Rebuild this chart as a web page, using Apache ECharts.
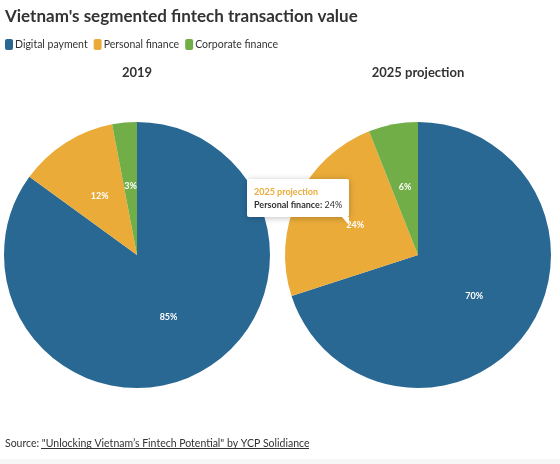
<!DOCTYPE html>
<html>
<head>
<meta charset="utf-8">
<script src="https://cdn.jsdelivr.net/npm/echarts@6/dist/echarts.min.js"></script>
<style>
	html, body { margin: 0; padding: 0; background: #fff; }
	#chart { width: 560px; height: 464px; }
</style>
</head>
<body>
<div id="chart"></div>
<script type="text/javascript">
	// data
	var categories = ['Digital payment', 'Personal finance', 'Corporate finance'];
	var years = ['2019', '2025 projection'];
	var values2019 = [85, 12, 3];
	var values2025 = [70, 24, 6];
	var colors = ['#2a6894', '#eaab39', '#71ae48'];

	var fontName = 'Lato';

	function makeData(vals) {
		var arr = [];
		for (var i = 0; i < categories.length; i++) {
			arr.push({ name: categories[i], value: vals[i] });
		}
		return arr;
	}

	var chart = echarts.init(document.getElementById('chart'));

	var pieBase = {
		type: 'pie',
		radius: ['0%', 133],
		startAngle: 90,
		clockwise: true,
		avoidLabelOverlap: false,
		label: {
			show: true,
			position: 'inside',
			formatter: '{c}%',
			color: '#fff',
			fontWeight: 'bold',
			fontSize: 9,
			fontFamily: fontName
		},
		labelLine: { show: false },
		emphasis: { scale: false, focus: 'none' },
		itemStyle: { borderWidth: 0 }
	};

	chart.setOption({
		animation: false,
		color: colors,
		textStyle: { fontFamily: fontName },
		title: [{
			text: "Vietnam's segmented fintech transaction value",
			left: 5,
			top: 8,
			padding: 0,
			textStyle: { fontSize: 17, fontWeight: 'bold', color: '#333', fontFamily: fontName }
		}, {
			text: years[0],
			left: 137,
			top: 66,
			padding: 0,
			textAlign: 'center',
			textStyle: { fontSize: 13, fontWeight: 'bold', color: '#333' }
		}, {
			text: years[1],
			left: 418,
			top: 66,
			padding: 0,
			textAlign: 'center',
			textStyle: { fontSize: 13, fontWeight: 'bold', color: '#333' }
		}, {
			text: 'Source: {a|"Unlocking Vietnam\u2019s Fintech Potential" by YCP Solidiance}',
			left: 5,
			top: 438,
			padding: 0,
			textStyle: {
				fontSize: 10.5,
				fontWeight: 'normal',
				color: '#333',
				rich: { a: { fontSize: 10.5, color: '#333' } }
			}
		}],
		legend: {
			data: categories,
			left: 0,
			top: 34,
			itemWidth: 8,
			itemHeight: 11,
			itemGap: 6,
			icon: 'roundRect',
			textStyle: { fontSize: 10.5, color: '#333', padding: [0, 0, 0, -3] },
			selectedMode: false
		},
		tooltip: {
			trigger: 'item',
			alwaysShowContent: true,
			triggerOn: 'none',
			backgroundColor: '#fff',
			borderWidth: 0,
			padding: [6, 7],
			extraCssText: 'box-shadow:0 1px 6px rgba(0,0,0,0.25);border-radius:2px;',
			position: function () { return [247, 179]; },
			formatter: function (p) {
				return '<div style="position:relative;font-family:Lato;font-size:9px;line-height:13px;color:#333;">' +
					'<div style="color:' + colors[1] + ';font-weight:bold;">' + p.seriesName + '</div>' +
					'<b>' + p.name + ':</b> ' + p.value + '%' +
					'<div style="position:absolute;right:-7px;bottom:-14px;width:0;height:0;border-left:7px solid transparent;border-top:8px solid #fff;"></div>' +
					'</div>';
			}
		},
		graphic: [{
			type: 'rect',
			left: 41,
			top: 448,
			shape: { width: 268, height: 1 },
			style: { fill: '#333' }
		}, {
			type: 'rect',
			left: 0,
			top: 459,
			shape: { width: 560, height: 5 },
			style: { fill: '#f6f6f6' }
		}],
		series: [
			echarts.util.merge({ name: years[0], center: [137, 255], data: makeData(values2019) }, pieBase),
			echarts.util.merge({ name: years[1], center: [418, 255], data: makeData(values2025) }, pieBase)
		]
	});

	chart.dispatchAction({ type: 'showTip', seriesIndex: 1, dataIndex: 1 });
</script>
</body>
</html>
